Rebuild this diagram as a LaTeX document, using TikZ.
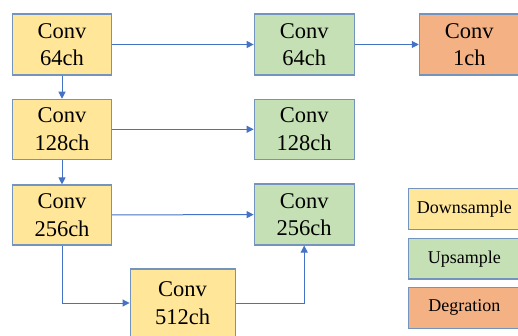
\documentclass[tikz,border=0pt]{standalone}
\usepackage{fontspec}
\setmainfont{LiberationSerif}[Extension=.ttf, UprightFont=*-Regular, BoldFont=*-Bold]
\usetikzlibrary{arrows.meta}
\definecolor{downfill}{HTML}{FFE699}
\definecolor{upfill}{HTML}{C5E0B4}
\definecolor{degfill}{HTML}{F4B183}
\definecolor{boxline}{HTML}{7394BC}
\definecolor{flow}{HTML}{4472C4}
\tikzset{
  block/.style={draw=boxline, line width=1.1pt, inner sep=0pt, align=center,
    font=\fontsize{22.5}{27.5}\selectfont},
  down/.style={block, fill=downfill},
  up/.style={block, fill=upfill},
  deg/.style={block, fill=degfill},
  key/.style={draw=boxline, line width=1.1pt, inner sep=0pt,
    minimum width=112pt, minimum height=40.5pt, font=\fontsize{18}{22}\selectfont},
  link/.style={draw=flow, line width=1pt, -{Triangle[length=7pt,width=7pt]}}
}
\begin{document}
\begin{tikzpicture}[x=1pt, y=-1pt]
\useasboundingbox (0,0) rectangle (518,336);
% encoder column
\node[down, minimum width=99pt, minimum height=61pt] (d1) at (62,44.5) {Conv\\64ch};
\node[down, minimum width=99pt, minimum height=60pt] (d2) at (62,129.3) {Conv\\128ch};
\node[down, minimum width=99pt, minimum height=60pt] (d3) at (62,215) {Conv\\256ch};
\node[down, minimum width=105pt, minimum height=68pt] (d4) at (182.6,303) {Conv\\512ch};
% decoder column
\node[up, minimum width=100pt, minimum height=61pt] (u1) at (304.2,44.5) {Conv\\64ch};
\node[up, minimum width=100pt, minimum height=60pt] (u2) at (304.2,129.3) {Conv\\128ch};
\node[up, minimum width=100pt, minimum height=61pt] (u3) at (304.2,214.5) {Conv\\256ch};
% output
\node[deg, minimum width=100pt, minimum height=61pt] (o1) at (469.3,44.5) {Conv\\1ch};
% legend
\node[key, fill=downfill] (k1) at (464.3,209) {Downsample};
\node[key, fill=upfill] (k2) at (464.3,258.7) {Upsample};
\node[key, fill=degfill] (k3) at (464.3,307.8) {Degration};
% connections
\draw[link] (d1) -- (u1);
\draw[link] (u1) -- (o1);
\draw[link] (d1) -- (d2);
\draw[link] (d2) -- (u2);
\draw[link] (d2) -- (d3);
\draw[link] (d3) -- (u3);
\draw[link] (d3.south) |- (d4.west);
\draw[link] (d4.east) -| (u3.south);
\end{tikzpicture}
\end{document}
